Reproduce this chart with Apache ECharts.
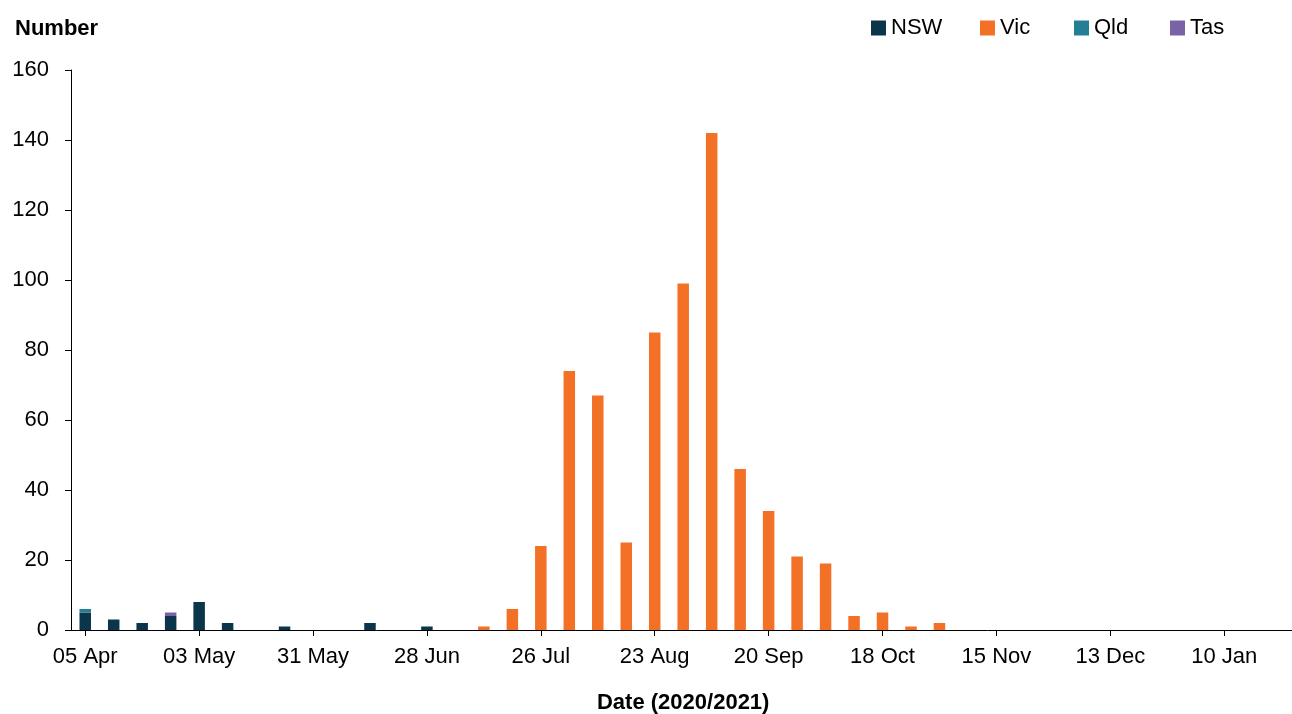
<!DOCTYPE html>
<html>
<head>
<meta charset="utf-8">
<script src="https://cdn.jsdelivr.net/npm/echarts@6/dist/echarts.min.js"></script>
<style>
  html, body { margin: 0; padding: 0; background: #fff; }
  #chart { width: 1292px; height: 714px; }
</style>
</head>
<body>
<div id="chart"></div>
<script>
// Weekly categories (week starting), 2020/2021
const weeks = [
  '05 Apr','12 Apr','19 Apr','26 Apr','03 May','10 May','17 May','24 May',
  '31 May','07 Jun','14 Jun','21 Jun','28 Jun','05 Jul','12 Jul','19 Jul',
  '26 Jul','02 Aug','09 Aug','16 Aug','23 Aug','30 Aug','06 Sep','13 Sep',
  '20 Sep','27 Sep','04 Oct','11 Oct','18 Oct','25 Oct','01 Nov','08 Nov',
  '15 Nov','22 Nov','29 Nov','06 Dec','13 Dec','20 Dec','27 Dec','03 Jan',
  '10 Jan','17 Jan','24 Jan'
];
const nsw = [5,3,2,4,8,2,0,1,0,0,2,0,1,0,0,0,0,0,0,0,0,0,0,0,0,0,0,0,0,0,0,0,0,0,0,0,0,0,0,0,0,0,0];
const vic = [0,0,0,0,0,0,0,0,0,0,0,0,0,0,1,6,24,74,67,25,85,99,142,46,34,21,19,4,5,1,2,0,0,0,0,0,0,0,0,0,0,0,0];
const qld = [1,0,0,0,0,0,0,0,0,0,0,0,0,0,0,0,0,0,0,0,0,0,0,0,0,0,0,0,0,0,0,0,0,0,0,0,0,0,0,0,0,0,0];
const tas = [0,0,0,1,0,0,0,0,0,0,0,0,0,0,0,0,0,0,0,0,0,0,0,0,0,0,0,0,0,0,0,0,0,0,0,0,0,0,0,0,0,0,0];
const seriesNames = ['NSW', 'Vic', 'Qld', 'Tas'];
const seriesColors = ['#0b354b', '#f37027', '#237e96', '#7a62a9'];
const legendLefts = [871, 980, 1074, 1170];

const FONT = 'Liberation Sans, Arial, sans-serif';
const chart = echarts.init(document.getElementById('chart'));
const allData = [nsw, vic, qld, tas];

chart.setOption({
  animation: false,
  backgroundColor: '#ffffff',
  textStyle: { fontFamily: FONT },
  title: {
    text: 'Number',
    left: 15, top: 18, padding: 0,
    textStyle: { fontFamily: FONT, fontSize: 22, fontWeight: 'bold', color: '#000' }
  },
  legend: seriesNames.map((name, i) => ({
    data: [name],
    left: legendLefts[i], top: 17, padding: 0,
    itemWidth: 15, itemHeight: 15,
    icon: 'rect',
    textStyle: { fontFamily: FONT, fontSize: 22, color: '#000' }
  })),
  grid: { left: 71, right: -3.4, top: 70, bottom: 84, containLabel: false, outerBoundsMode: 'none' },
  xAxis: {
    type: 'category',
    data: weeks,
    boundaryGap: true,
    axisLine: { show: true, lineStyle: { color: '#000', width: 1 } },
    axisTick: { show: true, interval: 3, alignWithLabel: true, length: 6, lineStyle: { color: '#000' } },
    axisLabel: { interval: 3, margin: 16, fontFamily: FONT, fontSize: 22, color: '#000' },
    name: 'Date (2020/2021)',
    nameLocation: 'middle',
    nameGap: 62,
    nameTextStyle: { fontFamily: FONT, fontSize: 22, fontWeight: 'bold', color: '#000' }
  },
  yAxis: {
    type: 'value',
    min: 0, max: 160, interval: 20,
    axisLine: { show: true, lineStyle: { color: '#000', width: 1 } },
    axisTick: { show: true, length: 6, lineStyle: { color: '#000' } },
    axisLabel: { margin: 22, fontFamily: FONT, fontSize: 22, color: '#000' },
    splitLine: { show: false }
  },
  series: seriesNames.map((name, i) => ({
    name: name,
    type: 'bar',
    stack: 'total',
    barWidth: 11.5,
    data: allData[i],
    itemStyle: { color: seriesColors[i] }
  }))
});
</script>
</body>
</html>
